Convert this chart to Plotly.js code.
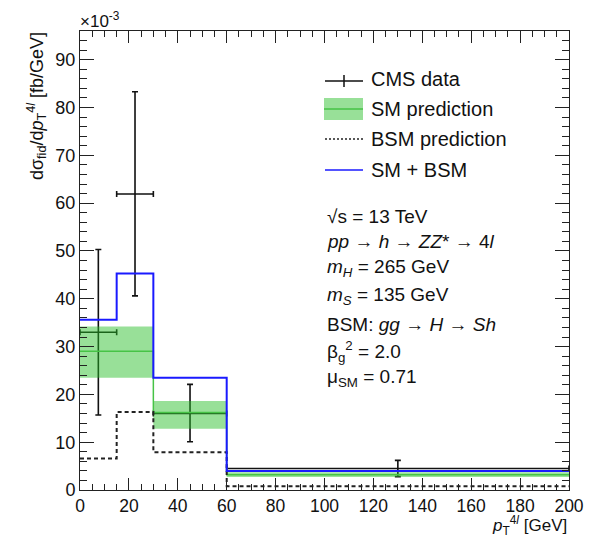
<!DOCTYPE html>
<html><head><meta charset="utf-8">
<script src="https://cdn.plot.ly/plotly-3.0.1.min.js"></script>
<style>body{margin:0;background:#fff}#chart{width:603px;height:536px}</style>
</head><body><div id="chart"></div>
<script>
// bin edges in pT [GeV]
const binEdges = [0, 15, 30, 60, 200];
// values in units of 1e-3 fb/GeV
const smCentral = [29.0, 29.0, 16.2, 3.2];
const smLow     = [23.5, 23.5, 12.8, 2.7];
const smHigh    = [34.2, 34.2, 18.6, 3.7];
const bsmPred   = [6.6, 16.3, 7.9, 0.8];
const smPlusBsm = [35.6, 45.3, 23.5, 4.0];
// CMS data
const dataX      = [7.5, 22.5, 45, 130];
const dataXerr   = [7.5, 7.5, 15, 70];
const dataY      = [33.0, 61.9, 16.0, 4.5];
const dataYup    = [50.3, 83.3, 22.1, 6.2];
const dataYdown  = [15.7, 40.6, 10.1, 2.8];

function stepY(v){ return v.concat([v[v.length-1]]); }

const L=80, R=569, T=31, B=490;
const px = x => (x-L)/(R-L);
const py = y => (B-y)/(B-T);

const font = "Liberation Sans, Arial, Helvetica, sans-serif";
const bandColor = "rgba(40,190,40,0.48)";
const smLine = "rgb(70,195,70)";

const traces = [
  {x: dataX, y: dataY, mode:'markers', marker:{size:1, color:'#111'},
   error_y:{type:'data', symmetric:false,
     array: dataYup.map((u,i)=>u-dataY[i]), arrayminus: dataYdown.map((d,i)=>dataY[i]-d),
     color:'#111', thickness:1.6, width:3},
   error_x:{type:'data', array: dataXerr, color:'#111', thickness:1.6, width:3}},
  {x: binEdges, y: stepY(smLow), mode:'lines', line:{shape:'hv', width:0, color:'rgba(0,0,0,0)'}, hoverinfo:'skip'},
  {x: binEdges, y: stepY(smHigh), mode:'lines', line:{shape:'hv', width:0, color:'rgba(0,0,0,0)'}, fill:'tonexty', fillcolor: bandColor, hoverinfo:'skip'},
  {x: binEdges, y: stepY(smCentral), mode:'lines', line:{shape:'hv', color:smLine, width:1.5}, hoverinfo:'skip'},
  {x: binEdges, y: stepY(bsmPred), mode:'lines', line:{shape:'hv', color:'#222', width:2, dash:'4px,3px'}, hoverinfo:'skip'},
  {x: binEdges, y: stepY(smPlusBsm), mode:'lines', line:{shape:'hv', color:'#1a1aff', width:2}, hoverinfo:'skip'},
  {x: [], y: [], xaxis:'x2', yaxis:'y2', mode:'lines', hoverinfo:'skip'}
];

const shapes = [
  // legend: CMS data
  {type:'line', xref:'paper', yref:'paper', x0:px(325), x1:px(363), y0:py(81), y1:py(81), line:{color:'#111', width:1.5}},
  {type:'line', xref:'paper', yref:'paper', x0:px(344), x1:px(344), y0:py(75), y1:py(87), line:{color:'#111', width:1.5}},
  // SM prediction
  {type:'rect', xref:'paper', yref:'paper', x0:px(324), x1:px(363), y0:py(98), y1:py(120), fillcolor:bandColor, line:{width:0}},
  {type:'line', xref:'paper', yref:'paper', x0:px(324), x1:px(363), y0:py(109), y1:py(109), line:{color:smLine, width:1.5}},
  // BSM prediction
  {type:'line', xref:'paper', yref:'paper', x0:px(325), x1:px(363), y0:py(139), y1:py(139), line:{color:'#222', width:1.3, dash:'2px,2px'}},
  // SM+BSM
  {type:'line', xref:'paper', yref:'paper', x0:px(325), x1:px(363), y0:py(170), y1:py(170), line:{color:'#1a1aff', width:1.5}}
];

function ann(text, x, y, opts){
  return Object.assign({text:text, xref:'paper', yref:'paper', x:px(x), y:py(y), xanchor:'left', yanchor:'middle',
    showarrow:false, font:{family:font, size:20, color:'#111'}}, opts||{});
}
const f19 = {font:{family:font, size:19, color:'#111'}};

const annotations = [
  ann('CMS data', 369, 79),
  ann('SM prediction', 369, 109),
  ann('BSM prediction', 369, 139),
  ann('SM + BSM', 369, 170),
  ann('√s = 13 TeV', 325, 216, f19),
  ann('<i>pp</i> → <i>h</i> → <i>ZZ</i>* → 4<i>l</i>', 325, 242, f19),
  ann('<i>m</i><sub><i>H</i></sub> = 265 GeV', 325, 268, f19),
  ann('<i>m</i><sub><i>S</i></sub> = 135 GeV', 325, 296, f19),
  ann('BSM: <i>gg</i> → <i>H</i> → <i>Sh</i>', 325, 324, f19),
  ann('β<sub>g</sub><sup>2</sup> = 2.0', 325, 351, f19),
  ann('μ<sub>SM</sub> = 0.71', 325, 378, f19),
  ann('×10<sup>-3</sup>', 78, 20, {font:{family:font, size:17, color:'#111'}}),
  ann('dσ<sub>fid</sub>/d<i>p</i><sub>T</sub><sup>4<i>l</i></sup> [fb/GeV]', 36, 30,
      {textangle:-90, xanchor:'center', yanchor:'top', font:{family:font, size:18, color:'#111'}}),
  ann('<i>p</i><sub>T</sub><sup>4<i>l</i></sup> [GeV]', 569, 525, {xanchor:'right', font:{family:font, size:17, color:'#111'}})
];

const tickBase = {ticks:'inside', tickwidth:1, tickcolor:'#222', showgrid:false, zeroline:false};
const layout = {
  width:603, height:536,
  margin:{l:L, r:603-R, t:T, b:536-B},
  paper_bgcolor:'#fff', plot_bgcolor:'#fff',
  showlegend:false,
  font:{family:font, size:18, color:'#111'},
  xaxis:Object.assign({range:[0,200], tick0:0, dtick:20, ticklen:12,
    showline:true, linecolor:'#222', linewidth:1, mirror:true,
    minor:{dtick:5, ticks:'inside', ticklen:6, tickcolor:'#222', showgrid:false},
    tickfont:{family:font, size:17.5, color:'#111'}}, tickBase),
  yaxis:Object.assign({range:[0,96], tick0:0, dtick:10, ticklen:14,
    showline:true, linecolor:'#222', linewidth:1, mirror:true,
    minor:{dtick:2, ticks:'inside', ticklen:7, tickcolor:'#222', showgrid:false},
    tickfont:{family:font, size:18, color:'#111'}}, tickBase),
  xaxis2:Object.assign({range:[0,200], tick0:0, dtick:20, ticklen:12, overlaying:'x', side:'top', anchor:'y2',
    showticklabels:false, showline:false,
    minor:{dtick:5, ticks:'inside', ticklen:6, tickcolor:'#222', showgrid:false}}, tickBase),
  yaxis2:Object.assign({range:[0,96], tick0:0, dtick:10, ticklen:14, overlaying:'y', side:'right', anchor:'x2',
    showticklabels:false, showline:false,
    minor:{dtick:2, ticks:'inside', ticklen:7, tickcolor:'#222', showgrid:false}}, tickBase),
  shapes:shapes, annotations:annotations
};

Plotly.newPlot('chart', traces, layout, {staticPlot:true});
</script></body></html>
